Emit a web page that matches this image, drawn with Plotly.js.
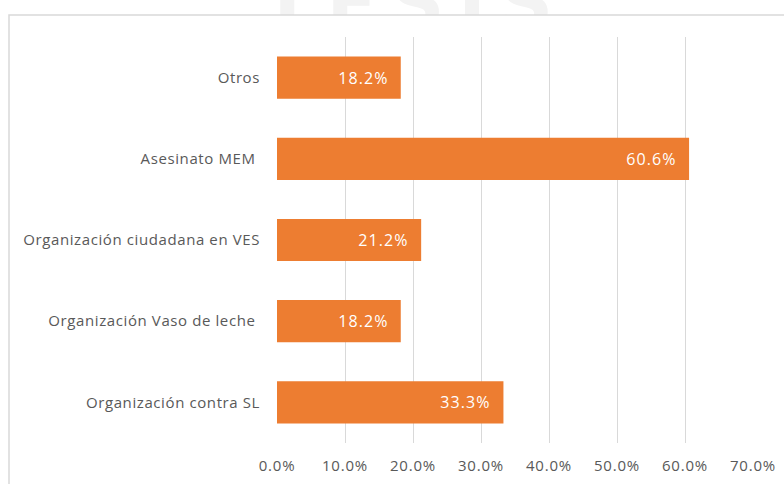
<!DOCTYPE html>
<html>
<head>
<meta charset="utf-8">
<script src="https://cdn.plot.ly/plotly-3.0.1.min.js"></script>
<style>
  html, body { margin: 0; padding: 0; background: #ffffff; }
  #wm { position: absolute; left: 262px; top: -40px; font-family: "DejaVu Sans", sans-serif; font-weight: bold;
        font-size: 74px; color: #f3f3f3; letter-spacing: 14px; z-index: 0; }
  #chart { position: absolute; left: 0; top: 0; width: 784px; height: 484px; z-index: 1; }
  #chart .xtick text { letter-spacing: 0.8px; }
  #chart .ytick text { letter-spacing: 0.6px; }
  #chart .annotation-text { letter-spacing: 1.1px; }
</style>
</head>
<body>
<div id="wm">TESIS</div>
<div id="chart"></div>
<script>
// Data (top to bottom as displayed)
var categories = ["Organización contra SL", "Organización Vaso de leche\u00a0", "Organización ciudadana en VES", "Asesinato MEM\u00a0", "Otros"];
var values = [0.333, 0.182, 0.212, 0.606, 0.182];
var tickVals = [0, 0.1, 0.2, 0.3, 0.4, 0.5, 0.6, 0.7];

var FONT = '"Open Sans", sans-serif';
var GRAY = '#595959';

var trace = {
  type: 'bar',
  orientation: 'h',
  y: categories,
  x: values,
  marker: { color: '#ED7D31' },
  hoverinfo: 'skip'
};

var annotations = values.map(function (v, i) {
  return {
    x: v, y: categories[i], xref: 'x', yref: 'y',
    text: (v * 100).toFixed(1) + '%',
    showarrow: false, xanchor: 'right', xshift: -13,
    font: { family: FONT, size: 16, color: '#ffffff' }
  };
});

var layout = {
  width: 784, height: 484,
  paper_bgcolor: 'rgba(0,0,0,0)',
  plot_bgcolor: 'rgba(0,0,0,0)',
  margin: { l: 277, r: 31, t: 37, b: 41, pad: 0 },
  bargap: 0.48,
  showlegend: false,
  font: { family: FONT, size: 15, color: GRAY },
  xaxis: {
    range: [0, 0.7],
    tickvals: tickVals,
    tickformat: '.1%',
    showgrid: true, gridcolor: '#d9d9d9', gridwidth: 1,
    zeroline: false, showline: false, ticks: '',
    ticklabelstandoff: 12,
    tickfont: { family: FONT, size: 15, color: GRAY },
    fixedrange: true
  },
  yaxis: {
    type: 'category',
    showgrid: false, zeroline: false, showline: false, ticks: '',
    ticklabelstandoff: 16,
    tickfont: { family: FONT, size: 15, color: GRAY },
    fixedrange: true
  },
  annotations: annotations,
  shapes: [
    { type: 'rect', xref: 'paper', yref: 'paper', layer: 'below',
      x0: (9 - 277) / 476, x1: (800 - 277) / 476,
      y0: (443 - 500) / 406, y1: (443 - 15) / 406,
      fillcolor: '#ffffff', line: { color: '#d9d9d9', width: 1.5 } }
  ]
};

Plotly.newPlot('chart', [trace], layout, { displayModeBar: false, staticPlot: true });
</script>
</body>
</html>
